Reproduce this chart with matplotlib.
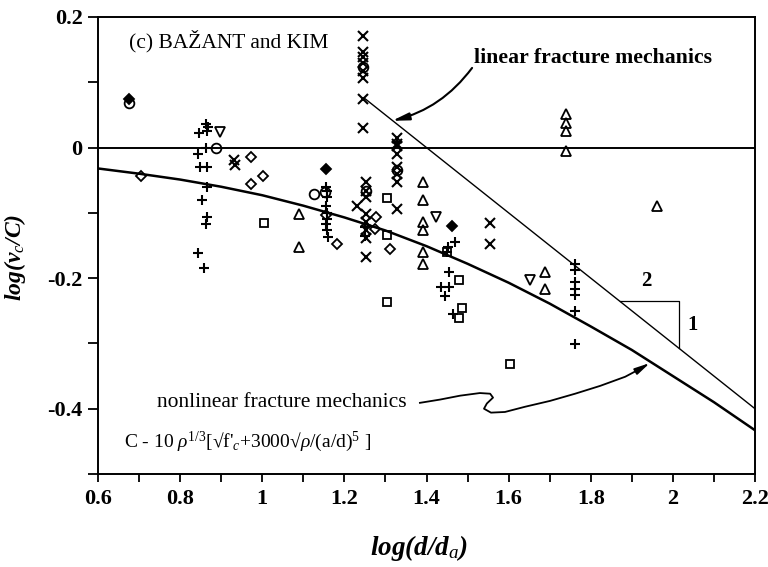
import matplotlib
matplotlib.use("Agg")
import matplotlib.pyplot as plt
import numpy as np

plt.rcParams['font.family'] = ['Liberation Serif', 'DejaVu Serif']
plt.rcParams['mathtext.fontset'] = 'custom'
plt.rcParams['mathtext.rm'] = 'Liberation Serif'
plt.rcParams['mathtext.it'] = 'Liberation Serif:italic'
plt.rcParams['mathtext.bf'] = 'Liberation Serif:bold'

# ---------------- data ----------------
plus_x = [0.847, 0.862, 0.868, 0.865, 0.863, 0.844, 0.848, 0.866, 0.866, 0.854, 0.865, 0.862, 0.844, 0.857,
          1.155, 1.155, 1.158, 1.158, 1.155, 1.157, 1.158, 1.155, 1.157, 1.160,
          1.250, 1.250, 1.329,
          1.461, 1.469, 1.452, 1.449, 1.455, 1.435, 1.456, 1.445, 1.464,
          1.762, 1.762, 1.762, 1.762, 1.762, 1.762, 1.762]
plus_y = [0.022, 0.036, 0.031, 0.026, 0.000, -0.010, -0.030, -0.030, -0.060, -0.080, -0.106, -0.117, -0.161, -0.185,
          -0.033, -0.060, -0.066, -0.076, -0.090, -0.100, -0.110, -0.117, -0.127, -0.137,
          -0.122, -0.135, 0.008,
          -0.120, -0.145, -0.152, -0.160, -0.190, -0.214, -0.214, -0.227, -0.255,
          -0.178, -0.188, -0.206, -0.216, -0.226, -0.250, -0.301]

cross_x = [0.932, 0.934,
           1.246, 1.246, 1.246, 1.246, 1.246, 1.246, 1.246, 1.246,
           1.252, 1.252, 1.252, 1.252, 1.252, 1.252, 1.252, 1.252, 1.230,
           1.329, 1.329, 1.329, 1.329, 1.329, 1.329, 1.329, 1.329,
           1.555, 1.555]
cross_y = [-0.019, -0.027,
           0.171, 0.146, 0.138, 0.130, 0.118, 0.107, 0.075, 0.030,
           -0.053, -0.066, -0.076, -0.101, -0.114, -0.127, -0.139, -0.167, -0.089,
           0.015, 0.006, 0.002, -0.010, -0.030, -0.040, -0.053, -0.094,
           -0.115, -0.148]

diamond_x = [0.704, 0.972, 1.003, 0.972, 1.155, 1.181, 1.276, 1.275, 1.310]
diamond_y = [-0.043, -0.015, -0.043, -0.056, -0.104, -0.148, -0.106, -0.124, -0.155]

fdiamond_x = [0.675, 1.461, 1.155]
fdiamond_y = [0.075, -0.120, -0.033]

tri_up_x = [1.090, 1.090, 1.391, 1.391, 1.391, 1.391, 1.391, 1.391, 1.689, 1.689,
            1.740, 1.740, 1.740, 1.740, 1.962]
tri_up_y = [-0.101, -0.152, -0.052, -0.080, -0.114, -0.127, -0.160, -0.178, -0.191, -0.216,
            0.051, 0.037, 0.026, -0.005, -0.089]

tri_dn_x = [0.897, 1.423, 1.652]
tri_dn_y = [0.024, -0.107, -0.203]

square_x = [1.004, 1.305, 1.305, 1.305, 1.449, 1.479, 1.487, 1.479, 1.603]
square_y = [-0.116, -0.078, -0.134, -0.237, -0.160, -0.203, -0.245, -0.261, -0.332]

circle_x = [0.675, 0.887, 1.126, 1.246, 1.252, 1.329, 1.152]
circle_y = [0.068, 0.000, -0.071, 0.123, -0.066, -0.035, -0.068]

# nonlinear fracture mechanics curve (read at steps of 0.1)
nl_x = [0.6, 0.7, 0.8, 0.9, 1.0, 1.1, 1.2, 1.3, 1.4, 1.5, 1.6, 1.7, 1.8, 1.9, 2.0, 2.1, 2.2]
nl_y = [-0.032, -0.040, -0.049, -0.060, -0.073, -0.089, -0.107, -0.127, -0.151, -0.178,
        -0.207, -0.239, -0.274, -0.310, -0.350, -0.390, -0.433]

# linear fracture mechanics line (slope -1/2)
lin_x = [1.25, 2.2]
lin_y = [0.075, -0.400]

x_ticks = [0.6, 0.8, 1.0, 1.2, 1.4, 1.6, 1.8, 2.0, 2.2]
x_ticklabels = ["0.6", "0.8", "1", "1.2", "1.4", "1.6", "1.8", "2", "2.2"]
y_ticks = [-0.4, -0.2, 0.0, 0.2]
y_ticklabels = ["-0.4", "-0.2", "0", "0.2"]

# ---------------- figure ----------------
fig = plt.figure(figsize=(7.68, 5.67), dpi=100)
ax = fig.add_axes([98/768, 1-474/567, (755-98)/768, (474-17)/567])
ax.set_xlim(0.6, 2.2)
ax.set_ylim(-0.5, 0.2)

k = 'black'
ax.axhline(0, color=k, lw=1.4, zorder=1)
ax.plot(nl_x, nl_y, color=k, lw=1.8, zorder=2)
ax.plot(lin_x, lin_y, color=k, lw=1.0, zorder=2)

mew = 1.3
ax.plot(plus_x, plus_y, ls='none', marker='+', ms=7.5, mew=1.5, color=k, zorder=3)
ax.plot(cross_x, cross_y, ls='none', marker='x', ms=6.5, mew=1.5, color=k, zorder=3)
ax.plot(diamond_x, diamond_y, ls='none', marker='D', ms=5.3, mew=mew, mfc='none', mec=k, zorder=3)
ax.plot(fdiamond_x, fdiamond_y, ls='none', marker='D', ms=5, mew=mew, mfc=k, mec=k, zorder=3)
ax.plot(tri_up_x, tri_up_y, ls='none', marker='^', ms=6.5, mew=mew, mfc='none', mec=k, zorder=3)
ax.plot(tri_dn_x, tri_dn_y, ls='none', marker='v', ms=6.5, mew=mew, mfc='none', mec=k, zorder=3)
ax.plot(square_x, square_y, ls='none', marker='s', ms=6.3, mew=mew, mfc='none', mec=k, zorder=3)
ax.plot(circle_x, circle_y, ls='none', marker='o', ms=7, mew=mew, mfc='none', mec=k, zorder=3)

# slope triangle
ax.plot([1.871, 2.015, 2.015], [-0.235, -0.235, -0.3075], color=k, lw=0.9)
ax.text(1.935, -0.220, "2", fontsize=15, fontweight='bold', ha='center', va='bottom')
ax.text(2.035, -0.272, "1", fontsize=15, fontweight='bold', ha='left', va='center')

# texts
ax.text(0.675, 0.163, "(c) BAŽANT and KIM", fontsize=15.5, ha='left', va='center')
ax.text(1.516, 0.137, "linear fracture mechanics", fontsize=15.7, fontweight='bold', ha='left', va='center')
ax.text(0.744, -0.391, "nonlinear fracture mechanics", fontsize=15.5, ha='left', va='center')
ax.text(0.663, -0.450, r"C - 10 $\rho^{1/3}$[√f$'_{c}$+3000√$\rho$/(a/d)$^{5}$ ]", fontsize=14,
        ha='left', va='center')

# arrow to linear line
ax.annotate("", xy=(1.316, 0.041), xytext=(1.511, 0.122),
            arrowprops=dict(arrowstyle='-|>,head_length=1.0,head_width=0.22', color=k, lw=1.5,
                            connectionstyle='arc3,rad=-0.18', shrinkA=0, shrinkB=0))

# wavy arrow to nonlinear curve
wx = [1.384, 1.433, 1.482, 1.530, 1.555, 1.562, 1.547, 1.540, 1.557, 1.591, 1.640, 1.701,
      1.762, 1.823, 1.884, 1.920]
wy = [-0.391, -0.386, -0.380, -0.376, -0.377, -0.383, -0.392, -0.400, -0.406, -0.405, -0.397,
      -0.388, -0.377, -0.365, -0.351, -0.339]
ax.plot(wx, wy, color=k, lw=1.3)
ax.annotate("", xy=(1.944, -0.330), xytext=(1.920, -0.339),
            arrowprops=dict(arrowstyle='-|>,head_length=0.9,head_width=0.2', color=k, lw=1.3,
                            shrinkA=0, shrinkB=0))

# axes styling
for s in ax.spines.values():
    s.set_linewidth(1.4)
ax.set_xticks(x_ticks)
ax.set_xticklabels(x_ticklabels)
ax.set_yticks(y_ticks)
ax.set_yticklabels(y_ticklabels)
ax.set_xticks(np.arange(0.7, 2.2, 0.2), minor=True)
ax.set_yticks([-0.5, -0.3, -0.1, 0.1], minor=True)
ax.tick_params(axis='both', which='both', direction='out', width=1.3)
ax.tick_params(axis='x', which='both', length=6, pad=5)
ax.tick_params(axis='y', which='both', length=7, pad=4)
for lab in ax.get_xticklabels() + ax.get_yticklabels():
    lab.set_fontsize(16)
    lab.set_fontweight('bold')

fig.text(15/768, 1-257/567, "log(v$_c$/C)", rotation=90, fontsize=17, fontstyle='italic',
         fontweight='bold', ha='center', va='center')
fig.text(419/768, 1-548/567, "log(d/d$_a$)", fontsize=19.5, fontstyle='italic',
         fontweight='bold', ha='center', va='center')

fig.savefig("out.png", dpi=100)
